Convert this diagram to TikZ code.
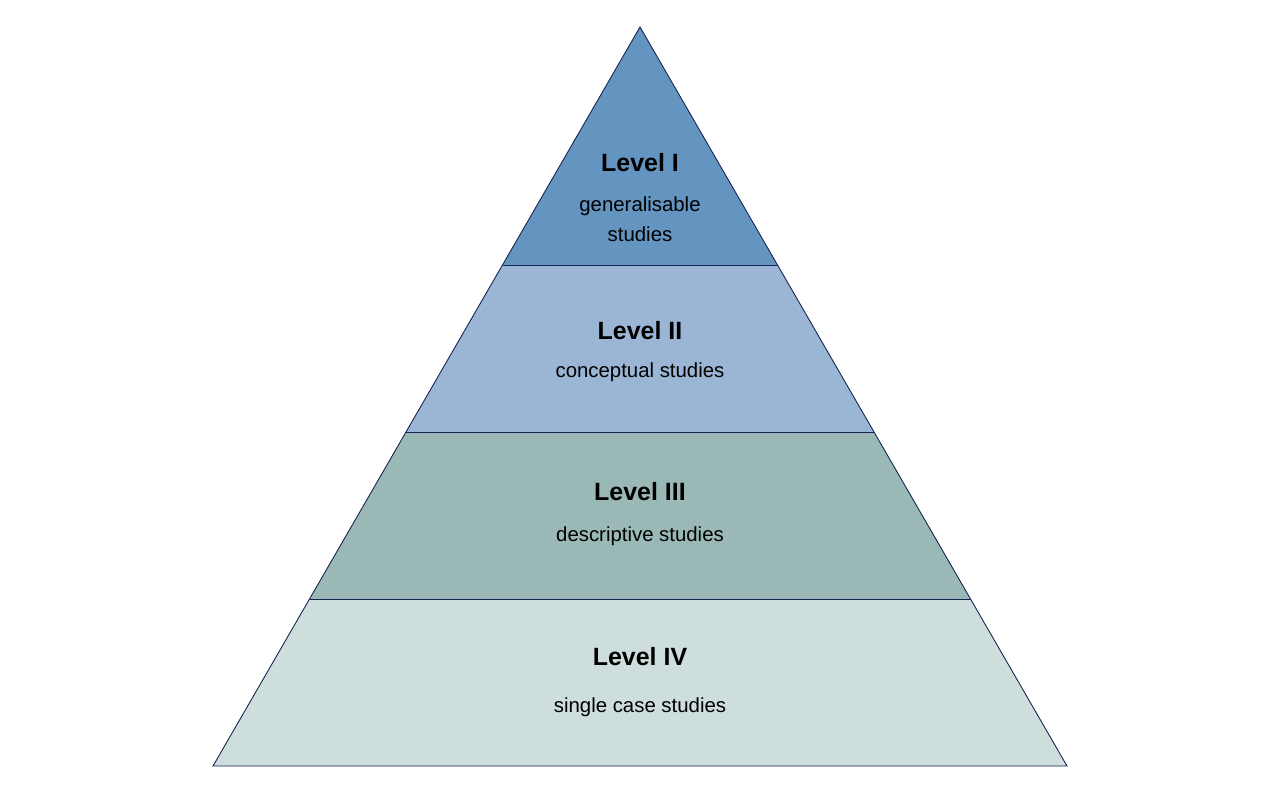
\documentclass[tikz,border=0pt]{standalone}
\usepackage{fontspec}
\setmainfont{Liberation Sans}
\usepackage{tikz}
\usetikzlibrary{positioning,calc}
\definecolor{edgenavy}{RGB}{22,34,80}
\definecolor{levelone}{RGB}{100,148,192}
\definecolor{leveltwo}{RGB}{154,182,212}
\definecolor{levelthree}{RGB}{154,184,182}
\definecolor{levelfour}{RGB}{205,222,221}
\tikzset{
    layer/.style={
        draw=edgenavy,
        line width=0.5pt,
        line join=miter
    },
    title/.style={
        font=\fontsize{14.2}{18}\selectfont\bfseries,
        inner sep=0pt
    },
    caption/.style={
        font=\fontsize{11.6}{17}\selectfont,
        align=center,
        inner sep=0pt
    }
}

\begin{document}
\begin{tikzpicture}[x=0.02cm, y=-0.02cm]
    \useasboundingbox (0,0) rectangle (1280,797);
    % corners of the pyramid
    \coordinate (apex) at (640,27);
    \coordinate (l1) at (502.5,265);  \coordinate (r1) at (777.5,265);
    \coordinate (l2) at (406,432);    \coordinate (r2) at (874,432);
    \coordinate (l3) at (309.5,599);  \coordinate (r3) at (970.5,599);
    \coordinate (l4) at (213,766);    \coordinate (r4) at (1067,766);

    \fill[levelfour] (l3) -- (r3) -- (r4) -- (l4) -- cycle;
    \fill[levelthree] (l2) -- (r2) -- (r3) -- (l3) -- cycle;
    \fill[leveltwo] (l1) -- (r1) -- (r2) -- (l2) -- cycle;
    \fill[levelone] (apex) -- (r1) -- (l1) -- cycle;
    \draw[layer] (apex) -- (r4) -- (l4) -- cycle;
    \draw[layer] (l1) -- (r1);
    \draw[layer] (l2) -- (r2);
    \draw[layer] (l3) -- (r3);

    \node (t1) [title] at (640,163) {Level I};
    \node (c1) [caption] at (640,219.5) {generalisable\\studies};
    \node (t2) [title] at (640,331) {Level II};
    \node (c2) [caption] at (640,372) {conceptual studies};
    \node (t3) [title] at (640,492) {Level III};
    \node (c3) [caption] at (640,536) {descriptive studies};
    \node (t4) [title] at (640,657) {Level IV};
    \node (c4) [caption] at (640,707) {single case studies};
\end{tikzpicture}
\end{document}
